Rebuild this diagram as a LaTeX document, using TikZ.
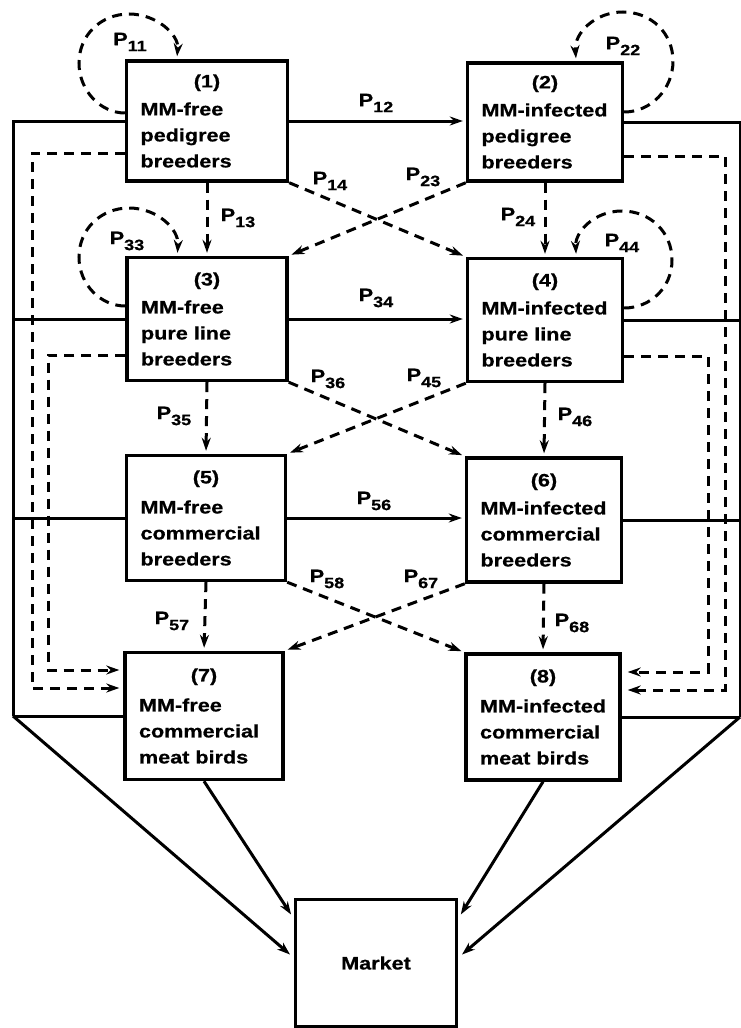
\documentclass[tikz,border=0pt]{standalone}
\usepackage{fontspec}
\setmainfont{Liberation Sans}[FakeStretch=1.2,BoldFeatures={FakeBold=0.7}]
\usetikzlibrary{arrows.meta,calc}
\newcommand\plab[1]{P\raisebox{-6pt}{\fontsize{15}{15}\selectfont #1}}
\begin{document}
\begin{tikzpicture}[x=1pt,y=-1pt,
  every node/.style={font=\fontsize{18}{26}\selectfont\bfseries},
  box/.style={draw,line width=3.4pt,rectangle,align=left,inner xsep=14pt},
  lab/.style={inner sep=0pt},
  sl/.style={line width=3pt},
  dl/.style={line width=3pt,dash pattern=on 10pt off 7pt},
  arr/.style={-{Stealth[length=13pt,width=9pt]},shorten >=3pt}]
\fill[white] (0,0) rectangle (741,1028);
\useasboundingbox (0,0) rectangle (741,1028);
% boxes
\node[box,minimum width=161,minimum height=120,text width=133] (n1) at (207,121)
  {\makebox[\linewidth]{(1)}\\[2pt]MM-free\\pedigree\\breeders};
\node[box,minimum width=155,minimum height=118,text width=127] (n2) at (545,122)
  {\makebox[\linewidth]{(2)}\\[2pt]\mbox{MM-infected}\\pedigree\\breeders};
\node[box,minimum width=160,minimum height=123,text width=132] (n3) at (207,319)
  {\makebox[\linewidth]{(3)}\\[2pt]MM-free\\pure line\\breeders};
\node[box,minimum width=155,minimum height=123,text width=127] (n4) at (545,320)
  {\makebox[\linewidth]{(4)}\\[2pt]\mbox{MM-infected}\\pure line\\breeders};
\node[box,minimum width=159,minimum height=125,text width=131] (n5) at (206,518)
  {\makebox[\linewidth]{(5)}\\[4pt]MM-free\\commercial\\breeders};
\node[box,minimum width=155,minimum height=124,text width=127] (n6) at (544,520)
  {\makebox[\linewidth]{(6)}\\[2pt]\mbox{MM-infected}\\commercial\\breeders};
\node[box,minimum width=158,minimum height=127,text width=130] (n7) at (204,716)
  {\makebox[\linewidth]{(7)}\\[4pt]MM-free\\commercial\\meat birds};
\node[box,minimum width=154,minimum height=126,text width=126] (n8) at (543,717)
  {\makebox[\linewidth]{(8)}\\[4pt]\mbox{MM-infected}\\commercial\\meat birds};
\node[box,minimum width=161,minimum height=127,align=center] (mk) at (376,963) {Market};
% corner coordinates
\coordinate (L) at (13,716);
\coordinate (R) at (740,717);
\coordinate (DL1) at (32,688);
\coordinate (DL2) at (48,670);
\coordinate (DR1) at (725,690);
\coordinate (DR2) at (708,672);
\coordinate (mkL1) at ($(mk.north west)!0.16!(mk.south west)$);
\coordinate (mkL2) at ($(mk.north west)!0.46!(mk.south west)$);
\coordinate (mkR1) at ($(mk.north east)!0.16!(mk.south east)$);
\coordinate (mkR2) at ($(mk.north east)!0.46!(mk.south east)$);
% solid horizontal arrows
\draw[sl,arr] (n1.east) -- (n1.east -| n2.west);
\draw[sl,arr] (n3.east) -- (n3.east -| n4.west);
\draw[sl,arr] (n5.east) -- (n5.east -| n6.west);
% outer solid lines to market
\draw[sl] (n1.west) -| (L);
\draw[sl] (n3.west) -- (n3.west -| L);
\draw[sl] (n5.west) -- (n5.west -| L);
\draw[sl] (n7.west) -- (L);
\draw[sl] (n2.east) -| (R);
\draw[sl] (n4.east) -- (n4.east -| R);
\draw[sl] (n6.east) -- (n6.east -| R);
\draw[sl] (n8.east) -- (R);
\draw[sl,arr,shorten >=5pt] (L) -- (mkL2);
\draw[sl,arr,shorten >=5pt] (n7.south) -- (mkL1);
\draw[sl,arr,shorten >=5pt] (R) -- (mkR2);
\draw[sl,arr,shorten >=5pt] (n8.south) -- (mkR1);
% dashed outer lines to meat birds
\draw[dl,arr,shorten >=4pt] ($(n1.west)+(0,32)$) -| (DL1) -- (DL1 -| n7.west);
\draw[dl,arr,shorten >=4pt] ($(n3.west)+(0,36)$) -| (DL2) -- (DL2 -| n7.west);
\draw[dl,arr,shorten >=6pt] ($(n2.east)+(0,34)$) -| (DR1) -- (DR1 -| n8.east);
\draw[dl,arr,shorten >=6pt] ($(n4.east)+(0,36)$) -| (DR2) -- (DR2 -| n8.east);
% vertical dashed
\draw[dl,arr] (n1.south) -- (n3.north);
\draw[dl,arr] (n2.south) -- (n4.north);
\draw[dl,arr] (n3.south) -- (n5.north);
\draw[dl,arr] (n4.south) -- (n6.north);
\draw[dl,arr] (n5.south) -- (n7.north);
\draw[dl,arr] (n6.south) -- (n8.north);
% crossing dashed
\draw[dl,arr] (n1.south east) -- (n4.north west);
\draw[dl,arr] (n2.south west) -- (n3.north east);
\draw[dl,arr] (n3.south east) -- (n6.north west);
\draw[dl,arr] (n4.south west) -- (n5.north east);
\draw[dl,arr] (n5.south east) -- (n8.north west);
\draw[dl,arr] (n6.south west) -- (n7.north east);
% self loops
\draw[dl,arr] ($(n1.west)+(0,-8)$) .. controls (101,113) and (79,91) .. (79,63)
  .. controls (79,35) and (101,14) .. (129,14)
  .. controls (157,14) and (179,35) .. ($(n1.north west)+(52,0)$);
\draw[dl,arr] ($(n2.east)+(0,-10)$) .. controls (651,112) and (673,89) .. (673,61)
  .. controls (673,33) and (651,12) .. (623,12)
  .. controls (595,12) and (574,33) .. ($(n2.north east)+(-48,0)$);
\draw[dl,arr] ($(n3.west)+(0,-13)$) .. controls (101,306) and (79,285) .. (79,257)
  .. controls (79,229) and (101,208) .. (129,208)
  .. controls (157,208) and (179,229) .. ($(n3.north west)+(52,0)$);
\draw[dl,arr] ($(n4.east)+(0,-12)$) .. controls (650,308) and (672,288) .. (672,260)
  .. controls (672,232) and (650,211) .. (622,211)
  .. controls (594,211) and (575,232) .. ($(n4.north east)+(-48,0)$);
% labels
\node[lab] (p11) at (130,42) {\plab{11}};
\node[lab] (p22) at (623,46) {\plab{22}};
\node[lab] (p33) at (127,241) {\plab{33}};
\node[lab] (p44) at (622,243) {\plab{44}};
\node[lab] (p12) at (376,103) {\plab{12}};
\node[lab] (p34) at (376,298) {\plab{34}};
\node[lab] (p56) at (374,501) {\plab{56}};
\node[lab] (p13) at (238,218) {\plab{13}};
\node[lab] (p24) at (518,217) {\plab{24}};
\node[lab] (p14) at (330,181) {\plab{14}};
\node[lab] (p23) at (423,177) {\plab{23}};
\node[lab] (p35) at (174,416) {\plab{35}};
\node[lab] (p46) at (575,417) {\plab{46}};
\node[lab] (p36) at (328,379) {\plab{36}};
\node[lab] (p45) at (424,378) {\plab{45}};
\node[lab] (p57) at (172,621) {\plab{57}};
\node[lab] (p68) at (572,623) {\plab{68}};
\node[lab] (p58) at (327,579) {\plab{58}};
\node[lab] (p67) at (421,579) {\plab{67}};
\end{tikzpicture}
\end{document}
